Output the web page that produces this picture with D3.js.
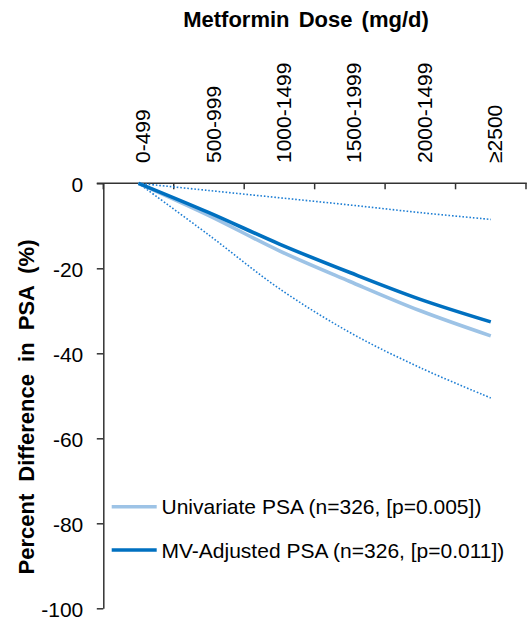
<!DOCTYPE html>
<html><head><meta charset="utf-8">
<script src="https://cdn.jsdelivr.net/npm/d3@7"></script>
<style>body{margin:0;background:#fff}text{font-family:"Liberation Sans",Arial,sans-serif}</style>
</head><body><svg id="c" width="531" height="625"></svg>
<script>
const categories = ["0-499","500-999","1000-1499","1500-1999","2000-1499","\u22652500"];
const univariate = [0,-7.6,-15.9,-23.1,-30.0,-35.9];
const mvAdjusted = [0,-6.9,-14.3,-21.0,-27.3,-32.6];
const ciUpper = [0,-1.7,-3.4,-5.1,-6.9,-8.5];
const ciLower = [0,-12.2,-24.8,-35.1,-43.4,-50.5];
const yTicks = [0,-20,-40,-60,-80,-100];
const legendLabels = ["Univariate PSA (n=326, [p=0.005])","MV-Adjusted PSA (n=326, [p=0.011])"];

const svg = d3.select("#c");
const x = d3.scaleBand().domain(categories).range([103.3,526]).padding(0);
const y = d3.scaleLinear().domain([-100,0]).range([608.3,183.3]);
const cx = c => x(c) + x.bandwidth()/2;
const axisColor = "#333";

// Y axis
const ya = svg.append("g").attr("transform","translate(103.3,0)")
  .call(d3.axisLeft(y).tickValues(yTicks).tickFormat(d=>String(d)).tickSize(6.5).tickSizeOuter(0).tickPadding(13.5));
ya.select(".domain").attr("stroke",axisColor).attr("stroke-width",1.5);
ya.selectAll(".tick line").attr("stroke",axisColor).attr("stroke-width",1.5);
ya.selectAll(".tick text").attr("font-size",21).attr("font-family","Liberation Sans, Arial, sans-serif").attr("fill","#000").attr("dy","0.4em");

// X axis at top (y=0)
const gx = svg.append("g");
gx.append("line").attr("x1",96.8).attr("x2",526.8).attr("y1",y(0)).attr("y2",y(0))
  .attr("stroke",axisColor).attr("stroke-width",1.5);
const bounds = categories.map(c=>x(c)).concat([x.range()[1]]);
gx.selectAll("line.t").data(bounds).join("line").attr("class","t")
  .attr("x1",d=>d).attr("x2",d=>d).attr("y1",y(0)).attr("y2",y(0)+6)
  .attr("stroke",axisColor).attr("stroke-width",1.5);
gx.selectAll("text").data(categories).join("text")
  .attr("transform",d=>`translate(${cx(d)},163) rotate(-90)`)
  .attr("dy","0.55em").attr("font-size",21).attr("text-anchor","start").text(d=>d);

// Lines
const line = d3.line().x((d,i)=>cx(categories[i])).y(d=>y(d)).curve(d3.curveCatmullRom.alpha(0.5));
const g = svg.append("g").attr("fill","none");
g.append("path").datum(ciUpper).attr("d",line).attr("stroke","#1f7fd4").attr("stroke-width",1.6).attr("stroke-dasharray","1.6,1.9");
g.append("path").datum(ciLower).attr("d",line).attr("stroke","#1f7fd4").attr("stroke-width",1.6).attr("stroke-dasharray","1.6,1.9");
g.append("path").datum(univariate).attr("d",line).attr("stroke","#9dc3e6").attr("stroke-width",3.6);
g.append("path").datum(mvAdjusted).attr("d",line).attr("stroke","#0070c0").attr("stroke-width",3.6);

// Legend
const legColors = ["#9dc3e6","#0070c0"];
const lg = svg.append("g");
legendLabels.forEach((t,i)=>{
  const ly = 506.7 + i*43.3;
  lg.append("line").attr("x1",111.7).attr("x2",156.7).attr("y1",ly).attr("y2",ly)
    .attr("stroke",legColors[i]).attr("stroke-width",3.6);
  lg.append("text").attr("x",161.5).attr("y",ly).attr("dy","0.36em").attr("font-size",21).text(t);
});

// Titles
svg.append("text").attr("x",306).attr("y",27).attr("text-anchor","middle")
  .attr("font-size",22).attr("font-weight","bold").attr("word-spacing","3px").text("Metformin Dose (mg/d)");
svg.append("text").attr("transform","translate(34,407) rotate(-90)").attr("text-anchor","middle")
  .attr("font-size",22).attr("font-weight","bold").attr("word-spacing","6px").text("Percent Difference in PSA (%)");
</script></body></html>
